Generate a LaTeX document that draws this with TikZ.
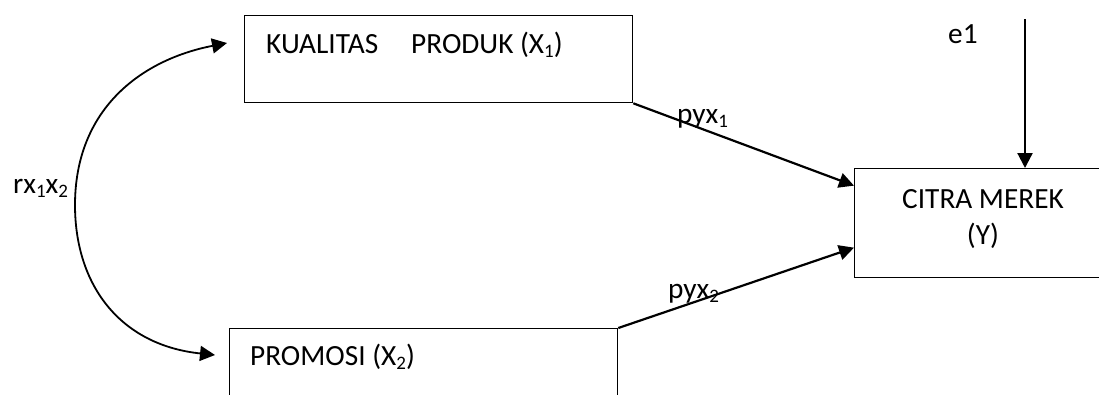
\documentclass[tikz,border=0pt]{standalone}
\usepackage{fontspec}
\setmainfont{Carlito}
\usetikzlibrary{arrows.meta}
% lowered small index, as in X1, X2
\newcommand\lowidx[1]{\raisebox{-0.16em}{\fontsize{19}{19}\selectfont #1}}
\begin{document}
\begin{tikzpicture}[x=1pt,y=-1pt,
  box/.style={draw, line width=1.3pt, inner sep=0pt, anchor=north west},
  txt/.style={inner sep=0pt, anchor=base west, font=\fontsize{29.3}{36}\selectfont},
  tip/.tip={Triangle[length=15pt,width=15pt]},
  effect/.style={line width=2.2pt, -tip},
  corr/.style={line width=1.8pt, tip-tip}]
\useasboundingbox (0,0) rectangle (1099,394);
\clip (0,0) rectangle (1099,394);

% variable boxes
\node[box, minimum width=388pt, minimum height=87pt] (X1) at (244,15) {};
\node[box, minimum width=388pt, minimum height=87pt] (X2) at (229,328) {};
\node[box, minimum width=258pt, minimum height=109pt] (Y) at (854,168) {};

% box texts
\node[txt] (tX1) at (266,53) {KUALITAS\hspace{33pt}PRODUK (X\lowidx{1})};
\node[txt] (tX2) at (250,365) {PROMOSI (X\lowidx{2})};
\node[inner sep=0pt, align=center, font=\fontsize{29.3}{36}\selectfont] (tY) at (983,219) {CITRA MEREK\\(Y)};

% path labels
\node[txt] (e1) at (948,43) {e1};
\node[txt] (r12) at (13,193) {rx\lowidx{1}x\lowidx{2}};
\node[txt] (p1) at (677,123) {pyx\lowidx{1}};
\node[txt] (p2) at (668,298) {pyx\lowidx{2}};

% direct effects
\draw[effect] (X1.south east) -- ([yshift=37.5pt]Y.west);
\draw[effect] (X2.north east) -- ([yshift=-24.5pt]Y.west);
\coordinate (etop) at (1025,19);
\draw[effect] (etop) -- (etop |- Y.north);

% correlation between X1 and X2
\coordinate (ca) at (227,43);
\coordinate (cm) at (75,205);
\coordinate (cb) at (215,355);
\draw[corr] (ca) .. controls (140,60) and (75,110) .. (cm)
                 .. controls (75,285) and (120,345) .. (cb);
\end{tikzpicture}
\end{document}
